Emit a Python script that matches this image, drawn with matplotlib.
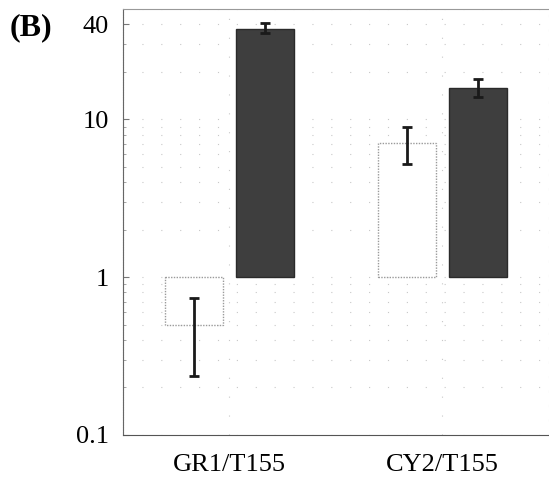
import matplotlib.pyplot as plt
import numpy as np
from matplotlib.ticker import FixedLocator, LogLocator, NullFormatter

groups = ["GR1/T155", "CY2/T155"]
white_vals = [0.5, 7.1]
white_lo = [0.235, 5.2]
white_hi = [0.74, 9.0]
dark_vals = [37.5, 15.8]
dark_lo = [35.0, 13.8]
dark_hi = [41.0, 17.9]
ytick_vals = [0.1, 1, 10, 40]
ytick_labels = ["0.1", "1", "10", "40"]

plt.rcParams["font.family"] = ["Liberation Serif", "DejaVu Serif"]

fig = plt.figure(figsize=(5.49, 4.86), dpi=100)
ax = fig.add_axes([0.224, 0.105, 0.776, 0.8765])
ax.set_yscale("log")

x = np.arange(len(groups))
off = 0.166
width = 0.271
base = 1.0

wv = np.array(white_vals)
dv = np.array(dark_vals)

# bars are drawn from 1 (ratio baseline) up or down
ax.bar(x - off, wv - base, width, bottom=base, facecolor="white",
       edgecolor="#9a9a9a", linewidth=1.0, linestyle=(0, (1, 1)), zorder=2)
ax.bar(x + off, dv - base, width, bottom=base, facecolor="#3e3e3e",
       edgecolor="#2a2a2a", linewidth=1.0, zorder=2)

err_w = [wv - np.array(white_lo), np.array(white_hi) - wv]
err_d = [dv - np.array(dark_lo), np.array(dark_hi) - dv]
ax.errorbar(x - off, wv, yerr=err_w, fmt="none", ecolor="#1a1a1a",
            elinewidth=2, capsize=3.5, capthick=2, zorder=3)
ax.errorbar(x + off, dv, yerr=err_d, fmt="none", ecolor="#1a1a1a",
            elinewidth=2, capsize=3.5, capthick=2, zorder=3)

ax.set_xlim(-0.5, 1.5)
ax.set_ylim(0.1, 50)

ax.yaxis.set_major_locator(FixedLocator(ytick_vals))
ax.set_yticklabels(ytick_labels, fontsize=19)
ax.yaxis.set_minor_locator(LogLocator(base=10, subs=np.arange(2, 10)))
ax.yaxis.set_minor_formatter(NullFormatter())
ax.set_xticks(x)
ax.set_xticklabels(groups, fontsize=19)

ax.tick_params(axis="y", which="major", direction="in", length=4,
               color="#777777", pad=10)
ax.tick_params(axis="y", which="minor", direction="in", length=2,
               color="#999999")
ax.tick_params(axis="x", length=0, pad=14)

ax.grid(True, which="both", axis="y", color="#c8c8c8",
        linestyle=(0, (1, 16)), linewidth=0.8, zorder=0)
ax.grid(True, which="major", axis="x", color="#c8c8c8",
        linestyle=(0, (1, 16)), linewidth=0.8, zorder=0)
ax.set_axisbelow(True)

ax.spines["right"].set_color("#cccccc")
ax.spines["right"].set_linestyle((0, (1, 12)))
ax.spines["left"].set_color("#666666")
ax.spines["left"].set_linestyle((0, (1, 0.5)))
ax.spines["bottom"].set_color("#555555")
ax.spines["top"].set_color("#999999")
ax.spines["top"].set_linestyle((0, (1, 1)))

fig.text(0.018, 0.942, "(B)", fontsize=23, fontweight="bold",
         ha="left", va="center")

fig.savefig("out.png", dpi=100)
